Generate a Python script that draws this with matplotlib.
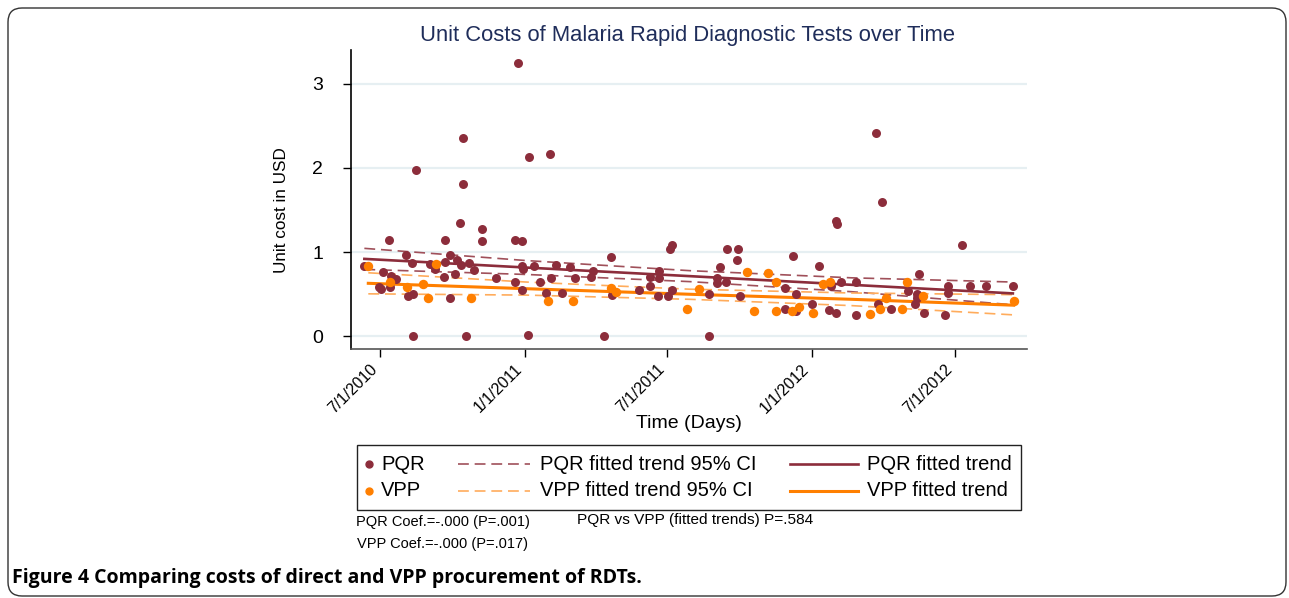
import pandas as pd
import matplotlib
matplotlib.use("Agg")
import matplotlib.pyplot as plt
import matplotlib.transforms as mtransforms
from matplotlib.lines import Line2D
from matplotlib.patches import FancyBboxPatch, Rectangle

plt.rcParams["font.family"] = ["Liberation Sans", "DejaVu Sans"]

# =========================
# data
# =========================
pqr_dates = [
    "2010-06-11", "2010-08-03", "2010-08-10", "2010-07-05", "2010-07-15", "2010-07-21",
    "2010-06-29", "2010-07-02", "2010-07-14", "2010-08-06", "2010-08-12", "2010-09-02",
    "2010-09-09", "2010-09-20", "2010-09-28", "2010-09-22", "2010-10-07", "2010-10-12",
    "2010-10-04", "2010-10-22", "2010-10-28", "2010-09-28", "2010-11-25", "2010-12-20",
    "2010-08-12", "2010-10-18", "2010-07-12", "2010-09-22", "2010-11-08", "2010-11-08",
    "2010-10-11", "2010-10-14", "2010-10-14", "2010-08-16", "2010-12-23", "2011-01-06",
    "2011-02-02", "2010-12-20", "2010-12-29", "2011-01-05", "2011-04-12", "2010-12-29",
    "2010-12-30", "2011-01-13", "2011-02-10", "2011-02-28", "2011-03-29", "2011-03-26",
    "2011-03-06", "2011-02-03", "2011-01-21", "2010-12-29", "2011-01-28", "2011-02-17",
    "2011-04-21", "2011-04-22", "2011-05-26", "2011-06-09", "2011-06-10", "2011-06-21",
    "2011-06-21", "2011-06-19", "2011-07-02", "2011-07-07", "2011-07-05", "2011-07-07",
    "2011-08-24", "2011-09-02", "2011-09-02", "2011-09-14", "2011-08-24", "2011-10-02",
    "2011-09-07", "2011-09-15", "2011-09-29", "2011-09-28", "2011-12-08", "2011-11-28",
    "2011-12-12", "2011-11-28", "2011-12-12", "2012-01-02", "2012-01-10", "2012-01-23",
    "2012-02-01", "2012-01-26", "2012-02-08", "2012-02-01", "2012-02-02", "2012-02-27",
    "2012-03-23", "2012-03-31", "2012-02-27", "2012-03-26", "2012-04-11", "2012-05-02",
    "2012-05-14", "2012-05-14", "2012-05-11", "2012-05-17", "2012-05-23", "2012-06-19",
    "2012-06-22", "2012-06-22", "2012-07-10", "2012-07-21", "2012-08-10", "2012-09-13",
]
pqr_cost = [
    0.84, 0.97, 0.87, 0.77, 0.72, 0.68,
    0.59, 0.56, 0.59, 0.48, 0.50, 0.86,
    0.80, 0.71, 0.97, 0.88, 0.91, 0.85,
    0.74, 0.87, 0.79, 0.46, 0.69, 0.65,
    0.00, 0.00, 1.14, 1.14, 1.13, 1.28,
    1.35, 1.81, 2.35, 1.98, 3.25, 2.13,
    2.17, 1.14, 1.13, 0.02, 0.00, 0.83,
    0.80, 0.84, 0.85, 0.82, 0.78, 0.71,
    0.69, 0.69, 0.65, 0.55, 0.52, 0.52,
    0.94, 0.49, 0.55, 0.60, 0.70, 0.78,
    0.69, 0.48, 0.48, 0.55, 1.04, 1.09,
    0.00, 0.69, 0.63, 0.64, 0.50, 0.48,
    0.82, 1.04, 1.04, 0.91, 0.96, 0.58,
    0.50, 0.32, 0.30, 0.39, 0.83, 0.31,
    0.28, 0.60, 0.65, 1.37, 1.33, 0.64,
    2.42, 1.60, 0.25, 0.38, 0.32, 0.54,
    0.50, 0.45, 0.39, 0.74, 0.28, 0.25,
    0.60, 0.52, 1.09, 0.60, 0.60, 0.60,
]

vpp_dates = [
    "2010-06-16", "2010-09-10", "2010-07-13", "2010-08-04", "2010-08-24", "2010-08-31",
    "2010-10-25", "2011-01-31", "2011-03-04", "2011-04-21", "2011-04-27", "2011-07-27",
    "2011-08-11", "2011-10-11", "2011-11-07", "2011-11-17", "2011-10-20", "2011-11-17",
    "2011-12-07", "2011-12-16", "2012-01-03", "2012-01-16", "2012-01-25", "2012-05-01",
    "2012-04-04", "2012-05-22", "2012-03-15", "2012-03-28", "2012-04-25", "2012-09-14",
]
vpp_cost = [
    0.83, 0.86, 0.65, 0.59, 0.62, 0.46,
    0.46, 0.42, 0.42, 0.58, 0.53, 0.32,
    0.56, 0.76, 0.75, 0.65, 0.30, 0.30,
    0.30, 0.35, 0.28, 0.62, 0.65, 0.65,
    0.46, 0.48, 0.27, 0.33, 0.33, 0.42,
]

# fitted trends and 95% CI, read at a few dates
pqr_fit_dates = ["2010-06-11", "2011-01-03", "2011-07-30", "2012-02-21", "2012-09-13"]
pqr_fit = [0.92, 0.817, 0.715, 0.612, 0.51]
pqr_ci_hi = [1.045, 0.90, 0.78, 0.695, 0.645]
pqr_ci_lo = [0.795, 0.735, 0.65, 0.53, 0.375]

vpp_fit_dates = ["2010-06-16", "2011-01-03", "2011-07-30", "2012-02-21", "2012-09-14"]
vpp_fit = [0.63, 0.566, 0.50, 0.44, 0.37]
vpp_ci_hi = [0.755, 0.645, 0.56, 0.515, 0.495]
vpp_ci_lo = [0.505, 0.49, 0.44, 0.365, 0.255]

tick_dates = ["2010-07-01", "2011-01-01", "2011-07-01", "2012-01-01", "2012-07-01"]
tick_labels = ["7/1/2010", "1/1/2011", "7/1/2011", "1/1/2012", "7/1/2012"]

PQR_C = "#8c2d3b"
PQR_CI = "#a0505a"
VPP_C = "#ff7f00"
VPP_CI = "#ffac5c"
TITLE_C = "#1f2d5a"
DASH = (0, (6.5, 3.5))

W, H = 1289, 598


def fx(x):
    return x / W


def fy(y):
    return 1 - y / H


fig = plt.figure(figsize=(W / 100, H / 100), dpi=100)
ax = fig.add_axes([fx(351), fy(349), fx(1027) - fx(351), fy(50) - fy(349)])

d = lambda s: pd.to_datetime(s)

# CI and trend lines
ax.plot(d(pqr_fit_dates), pqr_ci_hi, color=PQR_CI, lw=1.2, ls=DASH, zorder=2)
ax.plot(d(pqr_fit_dates), pqr_ci_lo, color=PQR_CI, lw=1.2, ls=DASH, zorder=2)
ax.plot(d(vpp_fit_dates), vpp_ci_hi, color=VPP_CI, lw=1.2, ls=DASH, zorder=2)
ax.plot(d(vpp_fit_dates), vpp_ci_lo, color=VPP_CI, lw=1.2, ls=DASH, zorder=2)
ax.plot(d(pqr_fit_dates), pqr_fit, color=PQR_C, lw=1.9, zorder=2)
ax.plot(d(vpp_fit_dates), vpp_fit, color=VPP_C, lw=2.2, zorder=2)

# points
ax.scatter(d(pqr_dates), pqr_cost, s=42, color=PQR_C, linewidths=0, zorder=3)
ax.scatter(d(vpp_dates), vpp_cost, s=46, color=VPP_C, linewidths=0, zorder=4)

ax.set_xlim(d("2010-05-25"), d("2012-10-01"))
ax.set_ylim(-0.15, 3.4)
ax.set_yticks([0, 1, 2, 3])
ax.set_yticklabels(["0", "1", "2", "3"], fontsize=14)
ax.set_xticks(d(tick_dates))
ax.set_xticklabels(tick_labels, rotation=45, ha="right", fontsize=11.5)
shift = mtransforms.ScaledTranslation(6 / 100, 3 / 100, fig.dpi_scale_trans)
for lab in ax.get_xticklabels():
    lab.set_transform(lab.get_transform() + shift)

for yv in [0, 1, 2, 3]:
    ax.axhline(yv, color="#e6eff2", lw=1.6, zorder=0)

for s in ["top", "right"]:
    ax.spines[s].set_visible(False)
ax.spines["left"].set_linewidth(1.2)
ax.spines["bottom"].set_linewidth(1.2)
ax.spines["bottom"].set_color("#555555")
ax.tick_params(axis="y", length=6, width=1, pad=14)
ax.tick_params(axis="x", length=6, width=1, pad=3)

fig.text(fx(687), fy(36), "Unit Costs of Malaria Rapid Diagnostic Tests over Time",
         ha="center", va="center", fontsize=15.8, color=TITLE_C)
fig.text(fx(281), fy(210), "Unit cost in USD", rotation=90,
         ha="center", va="center", fontsize=12.3)
fig.text(fx(689), fy(424), "Time (Days)", ha="center", va="center", fontsize=14)

# legend (drawn by hand to match the layout)
fig.add_artist(Rectangle((fx(357), fy(510)), fx(1021) - fx(357), fy(445) - fy(510),
                         transform=fig.transFigure, fill=False, ec="#222222", lw=1.0))
rows = [fy(464), fy(491)]
fig.add_artist(Line2D([fx(369)], [rows[0]], transform=fig.transFigure,
                      marker="o", ms=5, color=PQR_C, ls="none"))
fig.add_artist(Line2D([fx(369)], [rows[1]], transform=fig.transFigure,
                      marker="o", ms=5, color=VPP_C, ls="none"))
fig.add_artist(Line2D([fx(458), fx(530)], [rows[0]] * 2, transform=fig.transFigure,
                      color=PQR_CI, lw=1.2, ls=DASH))
fig.add_artist(Line2D([fx(458), fx(530)], [rows[1]] * 2, transform=fig.transFigure,
                      color=VPP_CI, lw=1.2, ls=DASH))
fig.add_artist(Line2D([fx(790), fx(858)], [rows[0]] * 2, transform=fig.transFigure,
                      color=PQR_C, lw=1.9))
fig.add_artist(Line2D([fx(790), fx(858)], [rows[1]] * 2, transform=fig.transFigure,
                      color=VPP_C, lw=2.2))
leg_txt = [
    (381, 0, "PQR"), (381, 1, "VPP"),
    (540, 0, "PQR fitted trend 95% CI"), (540, 1, "VPP fitted trend 95% CI"),
    (867, 0, "PQR fitted trend"), (867, 1, "VPP fitted trend"),
]
for x, r, t in leg_txt:
    fig.text(fx(x), rows[r], t, ha="left", va="center", fontsize=14.5)

# notes
fig.text(fx(356), fy(522), "PQR Coef.=-.000 (P=.001)", ha="left", va="center", fontsize=10.5)
fig.text(fx(357), fy(544), "VPP Coef.=-.000 (P=.017)", ha="left", va="center", fontsize=10.5)
fig.text(fx(577), fy(520), "PQR vs VPP (fitted trends) P=.584", ha="left", va="center",
         fontsize=11.1)

# caption
fig.text(fx(12), fy(578), "Figure 4 Comparing costs of direct and VPP procurement of RDTs.",
         ha="left", va="center", fontsize=14, fontweight="bold",
         family=["Open Sans", "DejaVu Sans"])

# rounded frame
fig.add_artist(FancyBboxPatch((0.08, 0.02), 12.78, 5.88,
                              boxstyle="round,pad=0,rounding_size=0.14",
                              transform=fig.dpi_scale_trans, fill=False,
                              ec="#333333", lw=1.0))

fig.savefig("out.png", dpi=100)
